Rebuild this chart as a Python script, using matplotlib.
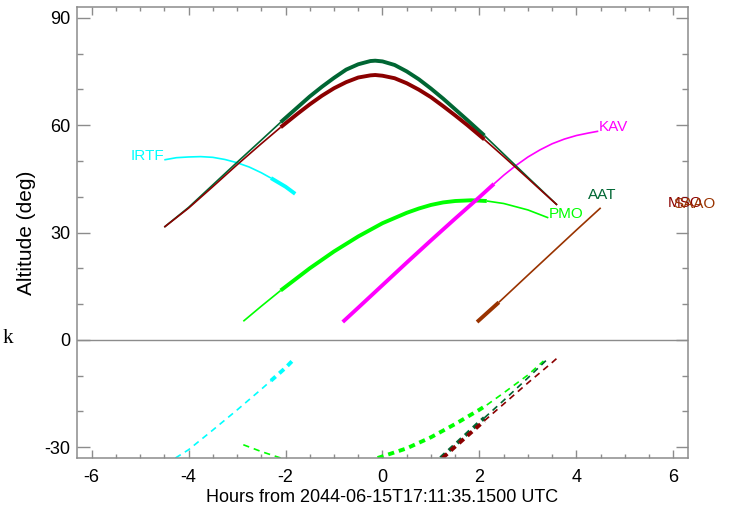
import numpy as np
import matplotlib
matplotlib.use("Agg")
import matplotlib.pyplot as plt
from matplotlib.ticker import MultipleLocator

plt.rcParams["font.family"] = ["Liberation Sans", "DejaVu Sans"]
plt.rcParams["axes.unicode_minus"] = False
plt.rcParams["lines.scale_dashes"] = False

# ── data (hours from reference time, altitude in deg) ──
IRTF_H   = [-4.5, -4.25, -4.0, -3.75, -3.5, -3.25, -3.0, -2.75, -2.5, -2.3, -2.0, -1.8]
IRTF_ALT = [50.3, 50.9, 51.1, 51.2, 51.0, 50.4, 49.5, 48.3, 46.7, 45.2, 42.8, 40.8]

AAT_H    = [-4.5, -4.0, -3.5, -3.0, -2.5, -2.1, -1.75, -1.5, -1.25, -1.0, -0.75, -0.5, -0.25, -0.15,
            0.0, 0.25, 0.5, 0.75, 1.0, 1.25, 1.5, 1.75, 2.1, 2.5, 3.0, 3.25, 3.6]
AAT_ALT  = [31.5, 37.0, 43.3, 49.6, 55.8, 60.8, 65.0, 68.0, 70.7, 73.2, 75.5, 77.0, 77.9, 78.0,
            77.8, 76.8, 75.0, 72.8, 70.2, 67.4, 64.4, 61.4, 57.1, 51.9, 45.4, 42.2, 37.7]

MSO_H    = AAT_H
MSO_ALT  = [31.5, 36.8, 42.8, 48.9, 54.8, 59.4, 63.2, 65.8, 68.2, 70.3, 72.0, 73.3, 73.9, 74.0,
            73.8, 73.1, 71.7, 69.9, 67.8, 65.3, 62.7, 60.0, 56.0, 51.2, 45.1, 42.0, 37.7]

PMO_H    = [-2.87, -2.5, -2.1, -1.5, -1.0, -0.5, 0.0, 0.5, 0.75, 1.0, 1.25, 1.5, 1.83, 2.15, 2.5, 3.0, 3.42]
PMO_ALT  = [5.2, 9.4, 13.8, 20.0, 24.7, 28.9, 32.6, 35.5, 36.7, 37.7, 38.4, 38.8, 39.0, 38.8, 38.1, 36.3, 34.1]

KAV_H    = [-0.82, -0.5, 0.0, 0.5, 1.0, 1.5, 2.0, 2.3, 2.5, 2.75, 3.0, 3.25, 3.5, 3.75, 4.0, 4.25, 4.45]
KAV_ALT  = [5.0, 9.0, 15.3, 21.6, 27.8, 33.9, 39.9, 43.6, 46.0, 48.7, 51.1, 53.1, 54.8, 56.1, 57.1, 57.8, 58.3]

SAAO_H   = [1.95, 2.4, 3.0, 3.5, 4.0, 4.5]
SAAO_ALT = [5.0, 10.5, 18.1, 24.4, 30.7, 36.9]

# sun altitude at each site (dashed, below horizon)
IRTF_SUN_H = [-4.27, -4.0, -3.5, -3.0, -2.5, -2.3, -2.0, -1.84]
IRTF_SUN   = [-33.0, -30.7, -25.2, -19.6, -13.8, -11.4, -7.8, -5.6]

PMO_SUN1_H = [-2.87, -2.5, -2.1]
PMO_SUN1   = [-29.3, -31.2, -33.0]
PMO_SUN2_H = [-0.1, 0.5, 1.0, 1.5, 2.0, 2.15, 2.5, 3.0, 3.32]
PMO_SUN2   = [-33.0, -30.3, -27.2, -23.5, -19.5, -18.2, -14.8, -9.8, -5.9]

AAT_SUN_H  = [1.2, 1.5, 2.0, 2.1, 2.5, 3.0, 3.4]
AAT_SUN    = [-33.0, -29.3, -23.0, -21.8, -16.9, -10.6, -5.4]

MSO_SUN_H  = [1.24, 1.5, 2.0, 2.1, 2.5, 3.0, 3.5, 3.6]
MSO_SUN    = [-33.0, -29.8, -23.8, -22.6, -17.9, -12.0, -6.3, -5.1]

C_IRTF = "#00ffff"
C_AAT  = "#006633"
C_MSO  = "#8b0000"
C_PMO  = "#00ff00"
C_KAV  = "#ff00ff"
C_SAAO = "#993300"

THIN, THICK = 1.2, 2.8
DASH = (0, (4.5, 3.5))


def draw(ax, h, a, color, window=None, dashed=False):
    """Thin line everywhere, thick inside the observable window."""
    h = np.asarray(h)
    a = np.asarray(a)
    ls = DASH if dashed else "-"
    kw = dict(color=color, ls=ls, solid_joinstyle="round", solid_capstyle="butt")
    if window is None:
        ax.plot(h, a, lw=THIN, **kw)
        return
    lo, hi = window
    before = h <= lo
    inside = (h >= lo) & (h <= hi)
    after = h >= hi
    for m, lw in ((before, THIN), (inside, THICK), (after, THIN)):
        if m.sum() > 1:
            ax.plot(h[m], a[m], lw=lw, **kw)


fig = plt.figure(figsize=(7.34, 5.09), dpi=100)
ax = fig.add_axes([77 / 734, 1 - 458 / 509, (688 - 77) / 734, (458 - 7) / 509])

ax.axhline(0, color="#8c8c8c", lw=1.0, zorder=0)

draw(ax, IRTF_H, IRTF_ALT, C_IRTF, (-2.3, -1.8))
draw(ax, PMO_H, PMO_ALT, C_PMO, (-2.1, 2.15))
draw(ax, KAV_H, KAV_ALT, C_KAV, (-0.82, 2.3))
draw(ax, AAT_H, AAT_ALT, C_AAT, (-2.1, 2.1))
draw(ax, MSO_H, MSO_ALT, C_MSO, (-2.1, 2.1))
draw(ax, SAAO_H, SAAO_ALT, C_SAAO, (1.95, 2.4))

draw(ax, IRTF_SUN_H, IRTF_SUN, C_IRTF, (-2.3, -1.84), dashed=True)
draw(ax, PMO_SUN1_H, PMO_SUN1, C_PMO, None, dashed=True)
draw(ax, PMO_SUN2_H, PMO_SUN2, C_PMO, (-0.1, 2.15), dashed=True)
draw(ax, AAT_SUN_H, AAT_SUN, C_AAT, (1.2, 2.1), dashed=True)
draw(ax, MSO_SUN_H, MSO_SUN, C_MSO, (1.24, 2.1), dashed=True)

# site labels (MSO and SAAO overlap in the original as well)
lab = dict(fontsize=11, va="baseline")
ax.text(IRTF_H[0], IRTF_ALT[0], "IRTF", color=C_IRTF, ha="right", **lab)
ax.text(KAV_H[-1], KAV_ALT[-1], "KAV", color=C_KAV, ha="left", **lab)
ax.text(PMO_H[-1], PMO_ALT[-1], "PMO", color=C_PMO, ha="left", **lab)
ax.text(4.23, 39.4, "AAT", color=C_AAT, ha="left", **lab)
ax.text(5.88, 37.2, "MSO", color=C_MSO, ha="left", **lab)
ax.text(6.0, 36.9, "SAAO", color=C_SAAO, ha="left", **lab)

ax.set_xlim(-6.3, 6.3)
ax.set_ylim(-33, 93)
ax.xaxis.set_major_locator(MultipleLocator(2))
ax.xaxis.set_minor_locator(MultipleLocator(0.5))
ax.yaxis.set_major_locator(MultipleLocator(30))
ax.yaxis.set_minor_locator(MultipleLocator(10))

gray = "#8c8c8c"
for s in ax.spines.values():
    s.set_color(gray)
    s.set_linewidth(1.1)
ax.tick_params(which="both", direction="in", top=True, right=True,
               color=gray, width=1.0, labelsize=13)
ax.tick_params(axis="x", which="major", length=6, pad=8)
ax.tick_params(axis="x", which="minor", length=3)
ax.tick_params(axis="y", which="major", length=9, pad=5)
ax.tick_params(axis="y", which="minor", length=4.5)

ax.set_xlabel("Hours from 2044-06-15T17:11:35.1500 UTC", fontsize=13, labelpad=2)
ax.set_ylabel("Altitude (deg)", fontsize=15, labelpad=6)

fig.text(3 / 734, 1 - 343 / 509, "k", fontsize=15, va="baseline",
         family=["Liberation Serif", "DejaVu Serif"])

fig.savefig("out.png", dpi=100)
